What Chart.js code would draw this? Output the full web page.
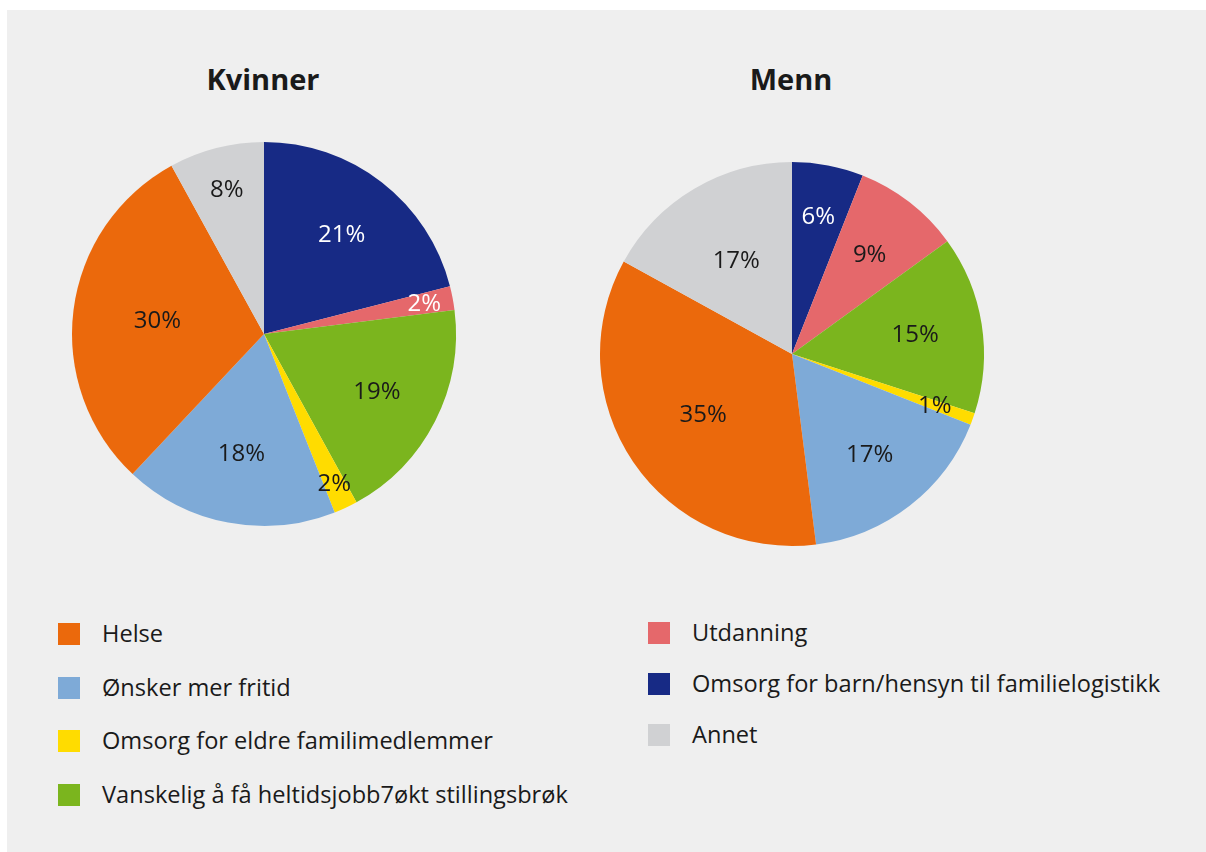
<!DOCTYPE html>
<html lang="no">
<head>
<meta charset="utf-8">
<title>Kvinner og menn</title>
<script src="https://cdn.jsdelivr.net/npm/chart.js@4/dist/chart.umd.min.js"></script>
<style>
  html, body { margin: 0; padding: 0; background: #ffffff; }
  body { width: 1206px; height: 852px; position: relative; overflow: hidden; font-family: "Open Sans", sans-serif; color: #1a1a1a; }
  .panel { position: absolute; left: 7px; top: 10px; right: 0; bottom: 0; background: #efefef; }
  .title { position: absolute; width: 300px; text-align: center; font-weight: bold; font-size: 29px; line-height: 30px; }
  .pie { position: absolute; width: 400px; height: 400px; }
  .legend-item { position: absolute; height: 22px; font-size: 23.6px; line-height: 22px; white-space: nowrap; }
  .legend-item .swatch { position: absolute; left: 0; top: 0; width: 22px; height: 22px; }
  .legend-item .label { position: absolute; left: 44px; top: -1px; }
</style>
</head>
<body>
<div class="panel"></div>
<div class="title" style="left:113px; top:64px;">Kvinner</div>
<div class="title" style="left:641px; top:64px;">Menn</div>
<canvas id="kvinnerChart" class="pie" style="left:64px; top:134px;"></canvas>
<canvas id="mennChart" class="pie" style="left:592px; top:154px;"></canvas>
<div id="legend"></div>

<script>
// categories in the order the slices are drawn (clockwise from 12 o'clock)
const categories = [
  "Omsorg for barn/hensyn til familielogistikk",
  "Utdanning",
  "Vanskelig å få heltidsjobb7økt stillingsbrøk",
  "Omsorg for eldre familimedlemmer",
  "Ønsker mer fritid",
  "Helse",
  "Annet"
];
const colors = ["#172a85", "#e5686b", "#7bb51e", "#ffdc00", "#7eaad7", "#eb690c", "#d0d1d3"];

const kvinnerValues = [21, 2, 19, 2, 18, 30, 8];
const mennValues = [6, 9, 15, 1, 17, 35, 17];

// legend columns (indices into categories)
const legendLeft = [5, 4, 3, 2];
const legendRight = [1, 0, 6];

// label placement as a share of the radius, and label colours
const kvinnerLabelRadius = [0.66, 0.85, 0.66, 0.86, 0.63, 0.56, 0.78];
const mennLabelRadius = [0.73, 0.66, 0.65, 0.79, 0.66, 0.56, 0.57];
const kvinnerLabelColors = ["#ffffff", "#ffffff", "#1a1a1a", "#1a1a1a", "#1a1a1a", "#1a1a1a", "#1a1a1a"];
const mennLabelColors = ["#ffffff", "#1a1a1a", "#1a1a1a", "#1a1a1a", "#1a1a1a", "#1a1a1a", "#1a1a1a"];

const sliceLabels = {
  id: "sliceLabels",
  afterDatasetsDraw(chart, args, opts) {
    const ctx = chart.ctx;
    const meta = chart.getDatasetMeta(0);
    const values = chart.data.datasets[0].data;
    ctx.save();
    ctx.font = '24px "Open Sans", sans-serif';
    ctx.textAlign = "center";
    ctx.textBaseline = "middle";
    meta.data.forEach((arc, i) => {
      const mid = (arc.startAngle + arc.endAngle) / 2;
      const r = arc.outerRadius * opts.radius[i];
      ctx.fillStyle = opts.colors[i];
      ctx.fillText(values[i] + "%", arc.x + Math.cos(mid) * r, arc.y + Math.sin(mid) * r + 1);
    });
    ctx.restore();
  }
};

function makePie(id, values, labelRadius, labelColors) {
  return new Chart(document.getElementById(id), {
    type: "pie",
    data: {
      labels: categories,
      datasets: [{
        data: values,
        backgroundColor: colors,
        borderWidth: 0
      }]
    },
    options: {
      responsive: false,
      animation: false,
      layout: { padding: 8 },
      plugins: {
        legend: { display: false },
        tooltip: { enabled: false },
        sliceLabels: { radius: labelRadius, colors: labelColors }
      }
    },
    plugins: [sliceLabels]
  });
}

function renderLegend() {
  const legend = document.getElementById("legend");
  const addColumn = (indices, left, top, step) => {
    indices.forEach((idx, row) => {
      const item = document.createElement("div");
      item.className = "legend-item";
      item.style.left = left + "px";
      item.style.top = Math.round(top + row * step) + "px";
      item.innerHTML = `<span class="swatch" style="background:${colors[idx]}"></span><span class="label">${categories[idx]}</span>`;
      legend.appendChild(item);
    });
  };
  addColumn(legendLeft, 58, 623, 53.5);
  addColumn(legendRight, 648, 622, 51);
}

makePie("kvinnerChart", kvinnerValues, kvinnerLabelRadius, kvinnerLabelColors);
makePie("mennChart", mennValues, mennLabelRadius, mennLabelColors);
renderLegend();
</script>
</body>
</html>
